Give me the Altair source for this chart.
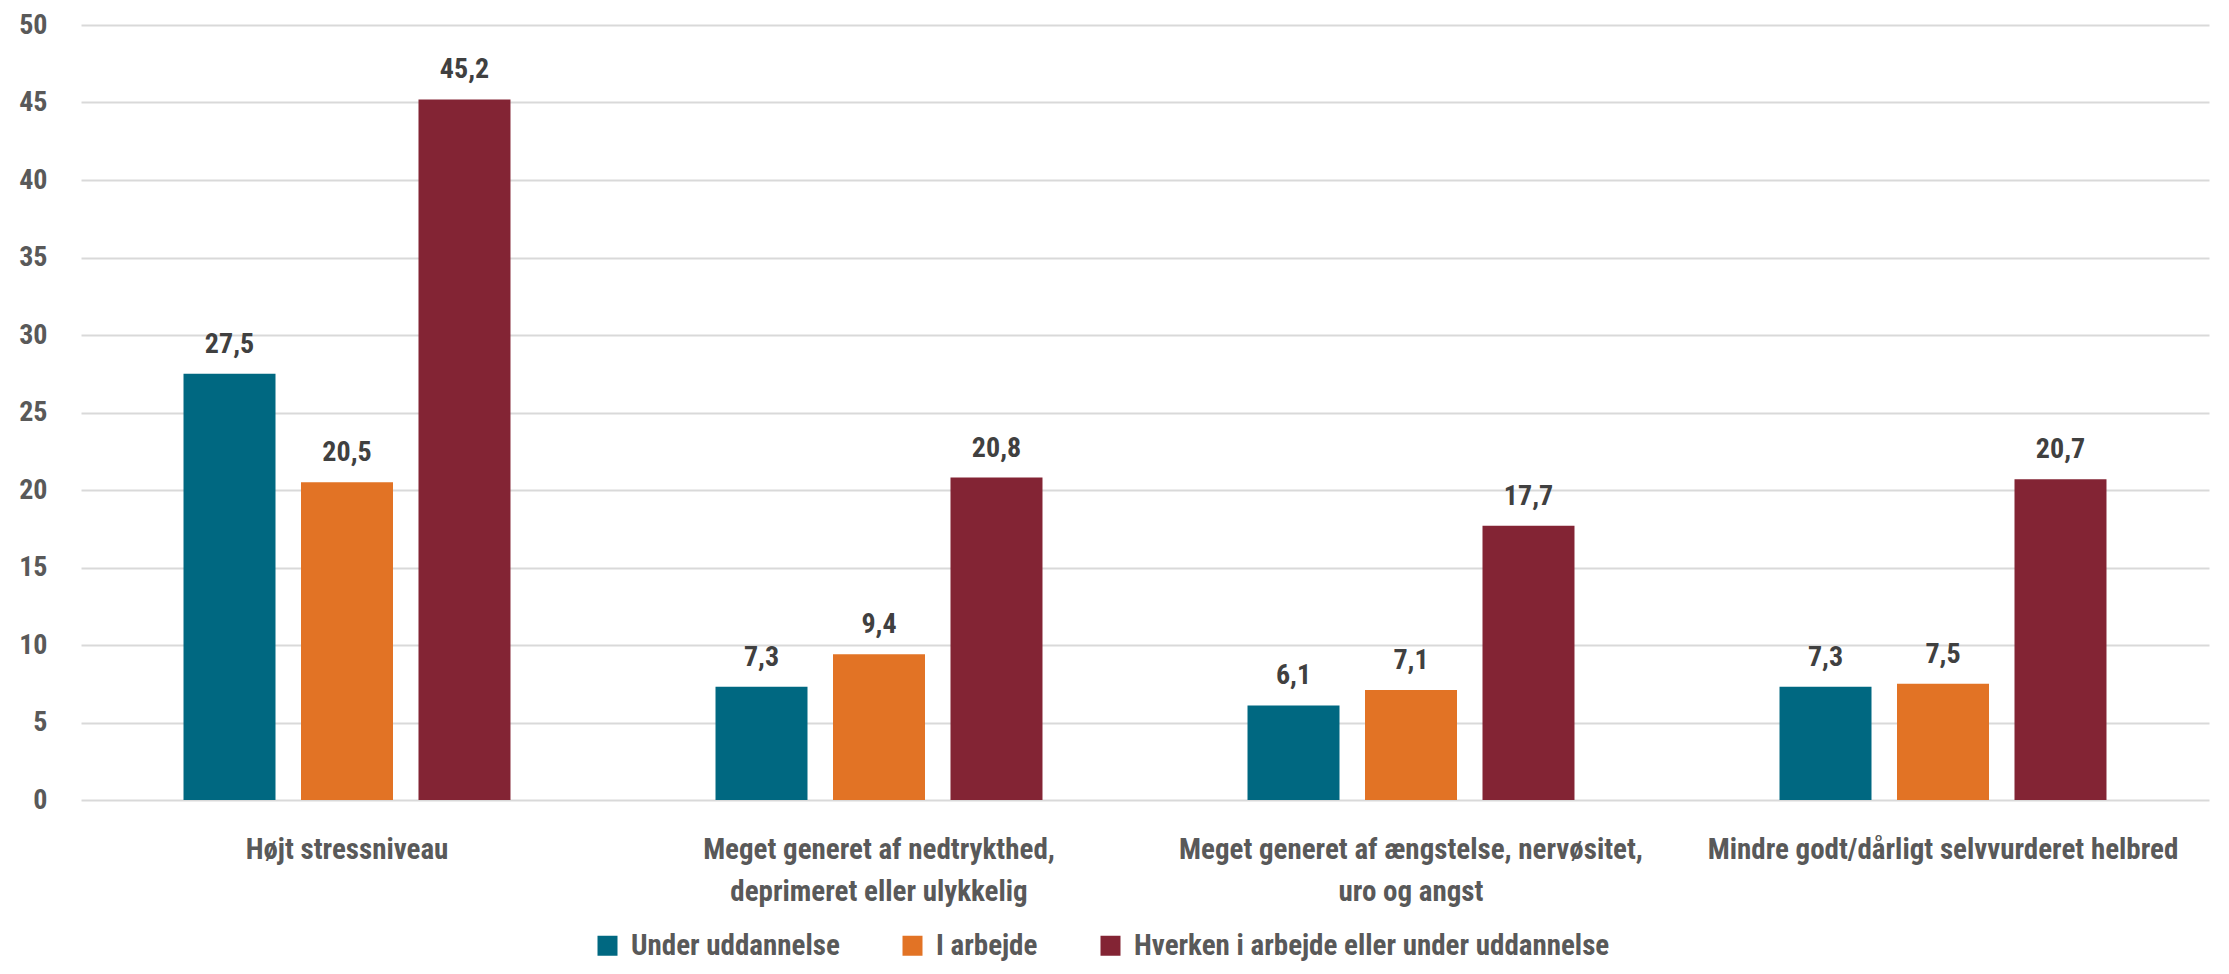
import altair as alt
import pandas as pd

categories = [
    "Højt stressniveau",
    "Meget generet af nedtrykthed,|deprimeret eller ulykkelig",
    "Meget generet af ængstelse, nervøsitet,|uro og angst",
    "Mindre godt/dårligt selvvurderet helbred",
]
groups = ["Under uddannelse", "I arbejde", "Hverken i arbejde eller under uddannelse"]
colors = ["#006881", "#E27325", "#832434"]

under_uddannelse = [27.5, 7.3, 6.1, 7.3]
i_arbejde = [20.5, 9.4, 7.1, 7.5]
hverken = [45.2, 20.8, 17.7, 20.7]

rows = []
for series, vals in zip(groups, [under_uddannelse, i_arbejde, hverken]):
    for cat, v in zip(categories, vals):
        rows.append({"kategori": cat, "gruppe": series, "værdi": v,
                     "etiket": f"{v:.1f}".replace(".", ",")})
df = pd.DataFrame(rows)

FONT = "Roboto Condensed, Roboto, sans-serif"
FS = 28

x = alt.X("kategori:N", sort=categories, title=None,
          scale=alt.Scale(paddingInner=0, paddingOuter=0),
          axis=alt.Axis(labelAngle=0, labelExpr="split(datum.label, '|')",
                        labelFont=FONT, labelFontSize=29, labelFontWeight="bold",
                        labelColor="#595959", labelLineHeight=42, labelPadding=35,
                        domain=False, ticks=False, labelLimit=600))
xo = alt.XOffset("gruppe:N", sort=groups,
                 scale=alt.Scale(paddingInner=0.217, paddingOuter=0.8725))
y = alt.Y("værdi:Q", title=None,
          scale=alt.Scale(domain=[0, 50], nice=False),
          axis=alt.Axis(values=list(range(0, 55, 5)), labelFont=FONT, labelFontSize=FS,
                        labelFontWeight="bold", labelColor="#595959", labelPadding=34,
                        domain=False, ticks=False, gridColor="#d9d9d9", gridWidth=2))
color = alt.Color("gruppe:N", sort=groups, title=None,
                  scale=alt.Scale(domain=groups, range=colors),
                  legend=alt.Legend(orient="none", direction="horizontal",
                                    legendX=512, legendY=906,
                                    labelFont=FONT, labelFontSize=29, labelFontWeight="bold",
                                    labelColor="#595959", symbolType="square",
                                    symbolSize=400, symbolStrokeWidth=0, labelOffset=9,
                                    columnPadding=58, labelLimit=800))

base = alt.Chart(df)
bars = base.mark_bar().encode(x=x, xOffset=xo, y=y, color=color)
texts = base.mark_text(baseline="alphabetic", dy=-21, font=FONT, fontSize=FS,
                       fontWeight="bold", color="#404040").encode(
    x=x, xOffset=xo, y=y, text="etiket:N")

chart = (bars + texts).properties(
    width=2128, height=775,
    background="white",
    autosize=alt.AutoSizeParams(type="none"),
    padding={"left": 73, "top": 17, "right": 12, "bottom": 166},
).configure_view(stroke=None)

chart.save("out.html", embed_options={"renderer": "svg", "actions": False})
